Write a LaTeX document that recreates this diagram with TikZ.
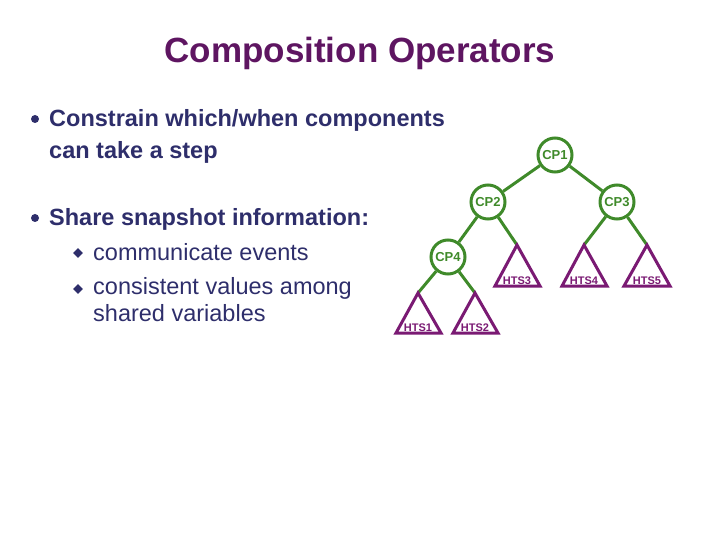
\documentclass[tikz,border=0pt]{standalone}
\usepackage{fontspec}
\setmainfont{Liberation Sans}
\usetikzlibrary{shapes.geometric}
\definecolor{ttl}{HTML}{5E1561}
\definecolor{txt}{HTML}{2E2E6B}
\definecolor{grn}{HTML}{3F8A2A}
\definecolor{pur}{HTML}{7A1A73}
\tikzset{x=1pt,y=-1pt,
 cp/.style={circle,draw=grn,line width=3pt,minimum size=34pt,inner sep=0pt,font=\bfseries\fontsize{13}{13}\selectfont,text=grn},
 edge/.style={grn,line width=3pt},
 hts/.style={pur,line width=3pt,line join=miter},
 hlab/.style={font=\bfseries\fontsize{11}{11}\selectfont,text=pur,inner sep=0pt},
 bl/.style={anchor=west,font=\bfseries\fontsize{23.5}{28}\selectfont,text=txt,inner sep=0pt},
 sb/.style={anchor=west,font=\fontsize{23.5}{28}\selectfont,text=txt,inner sep=0pt},
 dot/.style={circle,fill=txt,minimum size=8pt,inner sep=0pt},
 dia/.style={diamond,fill=txt,minimum size=10pt,inner sep=0pt}}
\begin{document}
\begin{tikzpicture}
\useasboundingbox (0,0) rectangle (720,540);
\node[font=\bfseries\fontsize{35}{40}\selectfont,text=ttl] (title) at (360,53) {Composition Operators};
\node[dot] (b1) at (35,119) {};
\node[bl] (t1) at (49,120) {Constrain which/when components};
\node[bl] (t1b) at (49,152) {can take a step};
\node[dot] (b2) at (35,218) {};
\node[bl] (t2) at (49,219) {Share snapshot information:};
\node[dia] (d1) at (78,253) {};
\node[sb] (s1) at (93,252) {communicate events};
\node[dia] (d2) at (78,289) {};
\node[sb] (s2) at (93,288) {consistent values among};
\node[sb] (s2b) at (93,313) {shared variables};
% tree
\node[cp] (cp1) at (555,155) {CP1};
\node[cp] (cp2) at (488,202) {CP2};
\node[cp] (cp3) at (617,202) {CP3};
\node[cp] (cp4) at (448,257) {CP4};
\coordinate (a3) at (517,245);
\coordinate (a4) at (584,245);
\coordinate (a5) at (647,245);
\coordinate (a1) at (418,293);
\coordinate (a2) at (475,293);
\draw[edge] (cp1)--(cp2); \draw[edge] (cp1)--(cp3);
\draw[edge] (cp2)--(cp4); \draw[edge] (cp2)--(a3);
\draw[edge] (cp3)--(a4); \draw[edge] (cp3)--(a5);
\draw[edge] (cp4)--(a1); \draw[edge] (cp4)--(a2);
\draw[hts] (a3)--(495,286)--(540,286)--cycle;
\draw[hts] (a4)--(562,286)--(607,286)--cycle;
\draw[hts] (a5)--(624,286)--(670,286)--cycle;
\draw[hts] (a1)--(396,333)--(441,333)--cycle;
\draw[hts] (a2)--(453,333)--(498,333)--cycle;
\node[hlab] (h3) at (517,281) {HTS3};
\node[hlab] (h4) at (584,281) {HTS4};
\node[hlab] (h5) at (647,281) {HTS5};
\node[hlab] (h1) at (418,328) {HTS1};
\node[hlab] (h2) at (475,328) {HTS2};
\end{tikzpicture}
\end{document}
